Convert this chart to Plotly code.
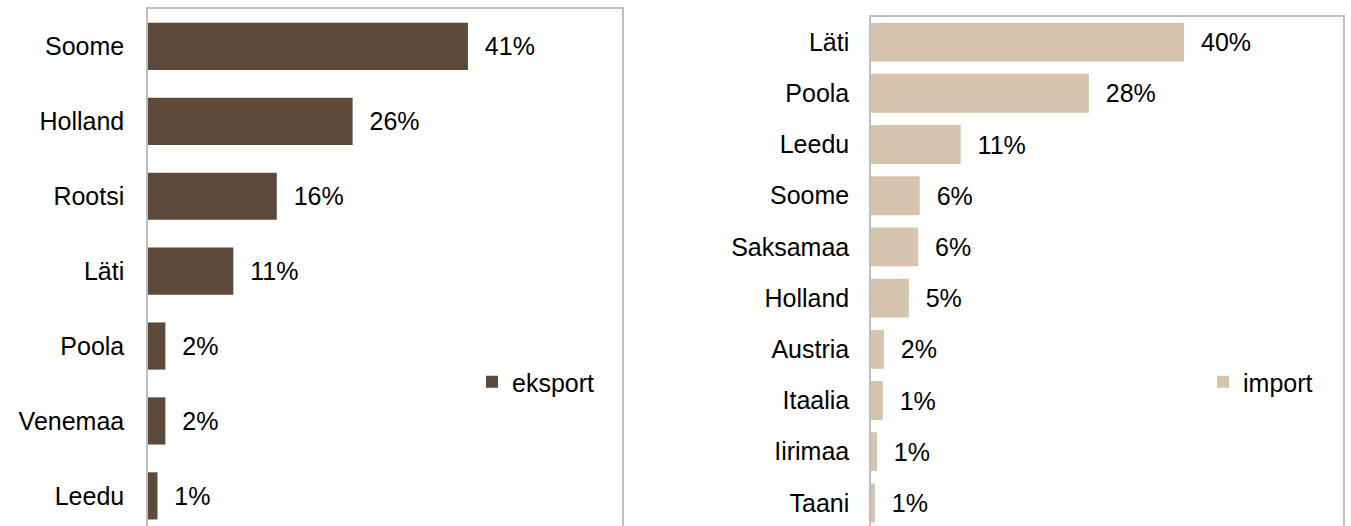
import plotly.graph_objects as go

W, H = 1351, 526

export_countries = ["Soome", "Holland", "Rootsi", "Läti", "Poola", "Venemaa", "Leedu"]
export_values = [40.5, 25.9, 16.3, 10.8, 2.2, 2.2, 1.2]
export_labels = ["41%", "26%", "16%", "11%", "2%", "2%", "1%"]

import_countries = ["Läti", "Poola", "Leedu", "Soome", "Saksamaa", "Holland",
                    "Austria", "Itaalia", "Iirimaa", "Taani"]
import_values = [39.8, 27.7, 11.4, 6.2, 6.0, 4.8, 1.65, 1.5, 0.76, 0.5]
import_labels = ["40%", "28%", "11%", "6%", "6%", "5%", "2%", "1%", "1%", "1%"]

EXP_COLOR = "#5e4a3a"
IMP_COLOR = "#d6c4ae"
BORDER = "#bfbfbf"
FONT = "Liberation Sans, Arial, sans-serif"
FS = 25
pad = "\u00a0\u00a0"

fig = go.Figure()
fig.add_trace(go.Bar(
    x=export_values, y=export_countries, orientation="h", name="eksport",
    marker=dict(color=EXP_COLOR, line=dict(width=0)),
    text=[pad + t for t in export_labels], textposition="outside",
    textfont=dict(size=FS, color="#000000", family=FONT), cliponaxis=False,
    xaxis="x", yaxis="y", legend="legend", width=0.63,
))
fig.add_trace(go.Bar(
    x=import_values, y=import_countries, orientation="h", name="import",
    marker=dict(color=IMP_COLOR, line=dict(width=0)),
    text=[pad + t for t in import_labels], textposition="outside",
    textfont=dict(size=FS, color="#000000", family=FONT), cliponaxis=False,
    xaxis="x2", yaxis="y2", legend="legend2", width=0.76,
))

def px(v):
    return v / W

l_top = 9
l_step = 74.9
r_top = 16.5
r_step = 51.2

fig.update_layout(
    width=W, height=H,
    margin=dict(l=0, r=0, t=0, b=0),
    paper_bgcolor="white", plot_bgcolor="white",
    font=dict(family=FONT, size=FS, color="#000000"),
    xaxis=dict(domain=[px(148), px(622)], range=[0, 60], side="top",
               showline=True, linecolor=BORDER, linewidth=1.5,
               showgrid=False, zeroline=False, showticklabels=False, ticks=""),
    yaxis=dict(domain=[0, 1 - l_top / H],
               range=[-0.5 + (H - l_top) / l_step, -0.5],
               categoryorder="array", categoryarray=export_countries,
               showline=True, mirror=True, linecolor=BORDER, linewidth=1.5,
               showgrid=False, zeroline=False,
               ticks="outside", ticklen=17, tickcolor="rgba(0,0,0,0)",
               tickfont=dict(size=FS, color="#000000", family=FONT)),
    xaxis2=dict(domain=[px(871), px(1343)], range=[0, 60], side="top", anchor="y2",
                showline=True, linecolor=BORDER, linewidth=1.5,
                showgrid=False, zeroline=False, showticklabels=False, ticks=""),
    yaxis2=dict(domain=[0, 1 - r_top / H], anchor="x2",
                range=[-0.5 + (H - r_top) / r_step, -0.5],
                categoryorder="array", categoryarray=import_countries,
                showline=True, mirror=True, linecolor=BORDER, linewidth=1.5,
                showgrid=False, zeroline=False,
                ticks="outside", ticklen=15, tickcolor="rgba(0,0,0,0)",
                tickfont=dict(size=FS, color="#000000", family=FONT)),
    legend=dict(x=px(472), y=1 - 382 / H, xanchor="left", yanchor="middle",
                bgcolor="rgba(0,0,0,0)", font=dict(size=FS, family=FONT),
                itemwidth=30),
    legend2=dict(x=px(1203), y=1 - 382 / H, xanchor="left", yanchor="middle",
                 bgcolor="rgba(0,0,0,0)", font=dict(size=FS, family=FONT),
                 itemwidth=30),
    showlegend=True,
)

fig.write_html("out.html", config={"displayModeBar": False},
               post_script="document.body.style.margin='0';document.body.style.overflow='hidden';")
